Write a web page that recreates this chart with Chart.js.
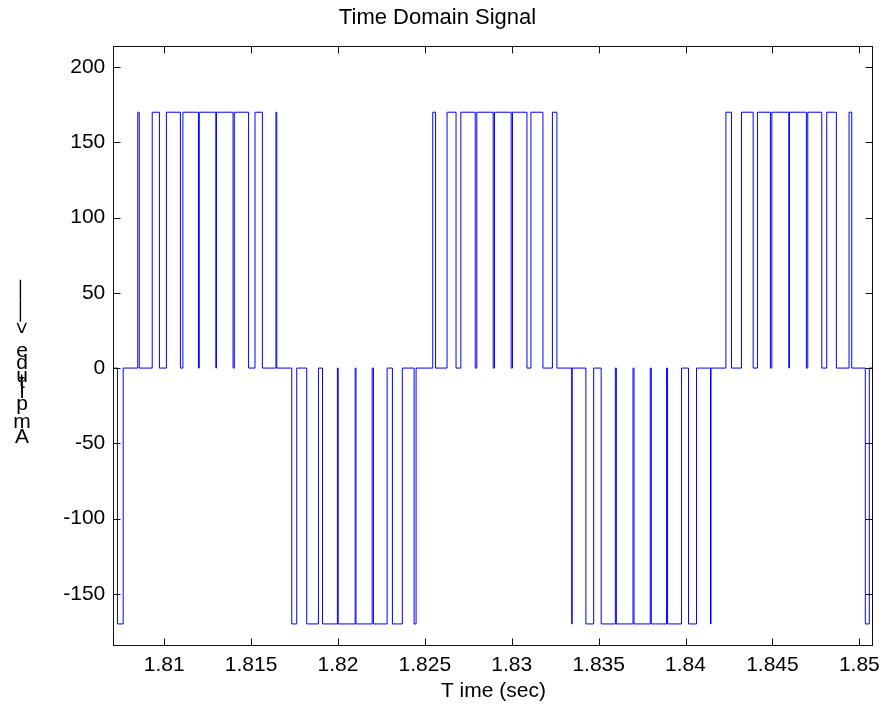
<!DOCTYPE html>
<html>
<head>
<meta charset="utf-8">
<script src="https://cdn.jsdelivr.net/npm/chart.js@4.4.1/dist/chart.umd.min.js"></script>
<style>
  html, body { margin: 0; padding: 0; background: #fff; }
  #wrap { width: 888px; height: 711px; }
</style>
</head>
<body>
<div id="wrap"><canvas id="signalChart" width="888" height="711"></canvas></div>
<script>
// axis windows
const xMin = 1.80707, xMax = 1.85082;
const yMin = -184, yMax = 214;
const xTicks = [1.81, 1.815, 1.82, 1.825, 1.83, 1.835, 1.84, 1.845, 1.85];
const yTicks = [-150, -100, -50, 0, 50, 100, 150, 200];

// trace starts / ends at zero
const traceStart = 1.80713, traceEnd = 1.85082;

// PWM pulses (sec), each one sits at pulseLevel between start and end
const pulseStart = [
  1.807310,
  1.808477, 1.809310, 1.810126, 1.811075, 1.812017, 1.813006, 1.814034, 1.815224, 1.816431,
  1.817339, 1.818201, 1.819109, 1.820011, 1.821034, 1.822040, 1.823132, 1.824379,
  1.825454, 1.826276, 1.827069, 1.827989, 1.829006, 1.830040, 1.831103, 1.832339,
  1.833448, 1.834264, 1.835144, 1.836017, 1.837034, 1.838029, 1.838966, 1.840172, 1.841437,
  1.842322, 1.843218, 1.844138, 1.844966, 1.845977, 1.847034, 1.848126, 1.849408,
  1.850345
];
const pulseEnd = [
  1.807638,
  1.808563, 1.809724, 1.810931, 1.811971, 1.812971, 1.813960, 1.814856, 1.815649, 1.816477,
  1.817626, 1.818874, 1.819966, 1.820989, 1.821966, 1.822828, 1.823701, 1.824494,
  1.825615, 1.826793, 1.827897, 1.828931, 1.829966, 1.830874, 1.831793, 1.832598,
  1.833477, 1.834713, 1.835960, 1.836977, 1.837971, 1.838908, 1.839770, 1.840632, 1.841466,
  1.842644, 1.843891, 1.844885, 1.845943, 1.846954, 1.847839, 1.848678, 1.849563,
  1.850575
];
const pulseLevel = [
  -170,
  170, 170, 170, 170, 170, 170, 170, 170, 170,
  -170, -170, -170, -170, -170, -170, -170, -170,
  170, 170, 170, 170, 170, 170, 170, 170,
  -170, -170, -170, -170, -170, -170, -170, -170, -170,
  170, 170, 170, 170, 170, 170, 170, 170,
  -170
];

const yWord = 'Amplitude';
const yArrow = '——>';

const FONT = '"Liberation Sans", Arial, Helvetica, sans-serif';

// step points: level changes at each listed time
const points = [{ x: traceStart, y: 0 }];
pulseStart.forEach((s, i) => {
  points.push({ x: s, y: pulseLevel[i] });
  points.push({ x: pulseEnd[i], y: 0 });
});
points.push({ x: traceEnd, y: 0 });

// box round the axes plus inward ticks on all four sides
const axesBox = {
  id: 'axesBox',
  afterDatasetsDraw(chart) {
    const { ctx, chartArea: a, scales: { x, y } } = chart;
    const L = Math.floor(a.left) + 0.5, R = Math.floor(a.right) - 0.5;
    const T = Math.floor(a.top) + 0.5, B = Math.floor(a.bottom) + 0.5;
    const len = 7;
    ctx.save();
    ctx.strokeStyle = '#111';
    ctx.lineWidth = 1;
    ctx.strokeRect(L, T, R - L, B - T);
    ctx.beginPath();
    xTicks.forEach(v => {
      const px = Math.round(x.getPixelForValue(v)) + 0.5;
      ctx.moveTo(px, B); ctx.lineTo(px, B - len);
      ctx.moveTo(px, T); ctx.lineTo(px, T + len);
    });
    yTicks.forEach(v => {
      const py = Math.round(y.getPixelForValue(v)) + 0.5;
      ctx.moveTo(L, py); ctx.lineTo(L + len, py);
      ctx.moveTo(R, py); ctx.lineTo(R - len, py);
    });
    ctx.stroke();
    ctx.restore();
  }
};

// the y label comes out with upright letters stacked up the side, arrow turned
const stackedLabel = {
  id: 'stackedLabel',
  afterDraw(chart) {
    const ctx = chart.ctx;
    const x0 = 22, base = 443;
    ctx.save();
    ctx.font = '21px ' + FONT;
    ctx.fillStyle = '#000';
    ctx.textAlign = 'center';
    ctx.textBaseline = 'alphabetic';
    let pos = 0;
    for (const ch of yWord) {
      ctx.fillText(ch, x0, base - pos);
      pos += ctx.measureText(ch).width * 1.05;
    }
    // arrow runs down from about y=272 to y=334
    const aw = ctx.measureText(yArrow).width;
    ctx.translate(x0 - 7, 334 - aw);
    ctx.rotate(Math.PI / 2);
    ctx.textAlign = 'left';
    ctx.fillText(yArrow, 0, 0);
    ctx.restore();
  }
};

new Chart(document.getElementById('signalChart'), {
  type: 'line',
  data: {
    datasets: [{
      data: points,
      borderColor: '#0000ff',
      borderWidth: 1,
      pointRadius: 0,
      stepped: true,
      fill: false
    }]
  },
  options: {
    responsive: false,
    animation: false,
    devicePixelRatio: 1,
    layout: { padding: { top: 0, right: 13, bottom: 0, left: 0 } },
    plugins: {
      legend: { display: false },
      tooltip: { enabled: false },
      title: {
        display: true,
        text: 'Time Domain Signal',
        color: '#000',
        font: { family: FONT, size: 22, weight: 'normal' },
        padding: { top: 5, bottom: 14.6 }
      }
    },
    scales: {
      x: {
        type: 'linear',
        min: xMin,
        max: xMax,
        grid: { display: false, drawTicks: false },
        border: { display: false },
        afterBuildTicks: s => { s.ticks = xTicks.map(v => ({ value: v })); },
        afterFit: s => { s.height = 66; },
        ticks: {
          color: '#000',
          font: { family: FONT, size: 21 },
          padding: 8,
          maxRotation: 0,
          autoSkip: false,
          callback: v => String(+v.toFixed(3))
        },
        title: {
          display: true,
          text: 'T ime (sec)',
          color: '#000',
          font: { family: FONT, size: 21 },
          padding: { top: 0, bottom: 7 }
        }
      },
      y: {
        type: 'linear',
        min: yMin,
        max: yMax,
        grid: { display: false, drawTicks: false },
        border: { display: false },
        afterBuildTicks: s => { s.ticks = yTicks.map(v => ({ value: v })); },
        afterFit: s => { s.width = 113.3; },
        ticks: {
          color: '#000',
          font: { family: FONT, size: 21 },
          padding: 8,
          autoSkip: false
        }
      }
    }
  },
  plugins: [axesBox, stackedLabel]
});
</script>
</body>
</html>
